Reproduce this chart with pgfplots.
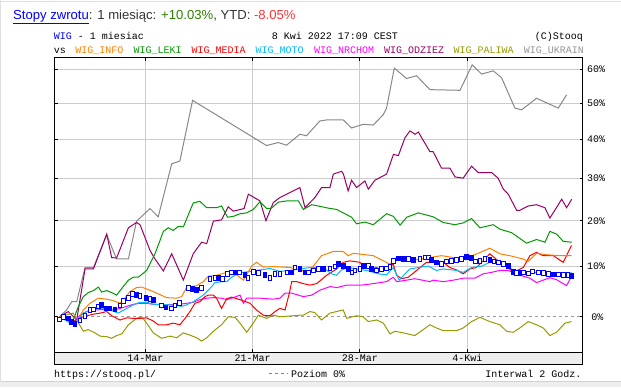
\documentclass[border=0pt]{standalone}
\usepackage{fontspec}
\setmainfont{Liberation Sans}
\newfontfamily\mono{Liberation Mono}
\usepackage{pgfplots}
\usepackage{pgfplotstable}
\pgfplotsset{compat=1.18}
\definecolor{cinfo}{HTML}{FF8000}
\definecolor{cleki}{HTML}{009900}
\definecolor{cmedia}{HTML}{FF0000}
\definecolor{cmoto}{HTML}{00BBFF}
\definecolor{cnrchom}{HTML}{FF00FF}
\definecolor{codziez}{HTML}{990066}
\definecolor{cpaliwa}{HTML}{999900}
\definecolor{cukrain}{HTML}{888888}
\definecolor{cgrid}{HTML}{CCCCCC}
\definecolor{cband}{HTML}{EEEEEE}
\definecolor{ctxt}{HTML}{333333}
\definecolor{cgreen}{HTML}{2E7D00}
\definecolor{cneg}{HTML}{FF3333}

% x: trading days from 8 Mar (14-Mar = 4, 21-Mar = 9, 28-Mar = 14, 4-Kwi = 19); y: return in %
\pgfplotstableread{
d r
0 0
0.33 1.3
0.57 2.9
0.80 2.9
1.19 9.8
1.58 9.8
2.20 16.8
2.66 11.6
3.21 11.6
3.59 19.9
4.22 22.8
4.60 20.9
5.23 33.7
5.61 34.4
6.20 50.8
9.65 38.4
10.19 39.2
10.58 38.5
11.20 41.4
11.51 41.0
12.13 45.0
12.45 45.3
13.22 45.3
13.61 43.1
14.15 44.1
14.62 43.9
15.09 46.8
15.24 48.6
15.60 60.3
16.17 57.2
16.64 58.0
17.26 53.9
18.66 53.7
19.23 61.3
19.67 58.5
20.21 59.5
20.60 57.4
21.22 48.6
21.53 48.1
22.23 51.4
23.24 48.6
23.63 52.4
}\tukrain

\pgfplotstableread{
d r
0 0
0.41 1.0
0.80 -0.6
1.19 9.5
1.58 9.5
2.20 17.0
2.43 11.9
2.66 11.8
3.21 18.4
3.59 19.6
3.75 19.1
4.22 13.4
4.45 11.6
4.84 9.1
5.23 12.7
5.77 7.2
6.23 12.7
6.62 15.2
6.86 14.9
7.17 19.9
7.55 20.2
7.86 23.2
8.10 22.2
8.60 22.8
8.80 26.2
9.34 24.6
9.62 20.0
9.96 24.2
10.24 25.3
10.58 26.2
11.20 27.8
11.44 23.0
11.90 25.4
12.21 27.8
12.60 27.8
12.76 31.1
13.15 31.8
13.23 31.1
13.45 27.0
13.61 29.6
13.84 27.8
14.23 29.4
14.39 27.4
14.70 29.6
15.24 31.1
15.56 36.1
15.79 35.8
16.10 40.5
16.33 42.3
16.57 41.4
16.72 42.0
17.26 36.8
17.41 36.8
17.80 32.6
18.19 32.6
18.43 30.4
18.81 30.1
19.20 33.1
19.51 31.5
20.13 31.5
20.44 30.1
20.68 27.4
20.91 26.2
21.30 22.4
21.45 22.4
21.84 23.4
22.23 23.7
22.62 23.0
22.85 20.6
23.40 25.0
23.63 23.0
23.87 25.0
}\todziez

\pgfplotstableread{
d r
0 0
0.64 -0.6
0.88 2.0
1.11 3.9
1.34 4.7
1.58 5.1
1.81 5.8
1.96 4.8
2.20 5.1
2.43 4.7
2.66 4.2
2.97 5.9
3.21 7.2
3.44 7.8
3.67 7.8
4.06 9.2
4.45 12.7
4.84 17.6
5.07 18.4
5.30 17.8
5.53 18.7
5.77 18.6
6.23 24.1
6.54 24.5
6.86 23.0
7.32 23.0
7.55 23.4
7.83 20.8
8.10 21.0
8.41 21.6
8.72 21.8
9.03 22.6
9.34 24.4
9.65 22.8
9.88 22.9
10.19 24.3
10.58 24.6
11.13 24.6
11.36 22.6
11.75 23.7
12.06 23.4
12.52 22.9
12.91 22.6
13.22 21.8
13.61 20.8
13.84 19.3
14.23 19.7
14.62 19.1
15.24 21.6
15.56 21.0
15.87 19.0
16.18 20.8
16.72 21.8
17.41 20.9
17.88 19.6
18.42 19.1
18.81 19.5
19.20 20.5
19.59 18.4
20.21 19.1
20.52 18.1
21.07 17.3
21.76 15.0
22.23 15.8
22.62 15.2
22.85 17.6
23.16 17.0
23.47 15.4
23.87 15.2
}\tleki

\pgfplotstableread{
d r
0 0
0.64 0.7
0.80 -0.6
1.11 -2.7
1.34 -2.4
1.65 -3.0
1.89 -3.6
2.20 -3.7
2.43 -4.0
2.66 -3.5
2.90 -3.2
3.21 -1.5
3.59 -0.3
3.83 0.0
4.06 -1.2
4.37 -3.0
4.76 -4.0
5.15 -3.6
5.46 -3.9
5.77 -3.0
6.00 -3.3
6.39 -3.9
6.62 -4.5
6.86 -3.9
7.17 -2.7
7.55 -1.5
7.86 0.0
8.18 -0.1
8.41 -1.2
8.72 -2.9
9.03 -1.2
9.26 0.3
9.65 -0.3
9.96 0.3
10.27 0.0
11.20 0.3
11.36 0.3
11.67 1.0
11.90 0.8
12.21 -0.6
12.60 0.7
13.22 1.3
13.38 -0.3
13.84 0.2
14.15 0.0
14.39 -0.9
14.78 -0.6
15.09 -1.2
15.40 -3.2
15.63 -2.7
16.02 -3.0
16.56 -3.5
16.95 -2.4
17.26 -1.5
17.57 -2.1
17.88 -2.6
18.50 -2.6
18.81 -2.1
19.20 -0.9
19.59 -0.1
20.05 -0.9
20.52 -1.5
20.83 -2.7
21.14 -2.9
21.45 -2.1
21.84 -0.9
22.23 -1.5
22.54 -2.1
22.85 -3.5
23.16 -2.9
23.55 -1.2
23.86 -0.9
}\tpaliwa

\pgfplotstableread{
d r
0 0
0.64 -1.2
0.95 0.3
1.27 1.0
1.58 1.3
2.20 1.4
2.51 1.3
2.82 1.6
3.13 2.0
3.44 2.4
3.75 2.6
4.06 2.6
4.37 2.4
4.99 2.3
5.61 2.4
5.92 2.6
6.23 2.8
6.54 3.3
6.86 3.6
7.17 3.7
7.55 3.6
7.79 3.3
8.10 3.7
8.41 4.2
8.57 2.6
8.72 3.6
9.34 3.6
9.96 3.4
10.27 3.6
10.51 4.6
10.82 4.6
11.36 3.9
11.75 4.2
12.14 5.2
12.61 5.9
12.93 5.7
13.38 6.2
14.08 6.2
14.62 6.5
15.24 6.9
15.55 7.8
15.71 6.9
16.18 7.2
16.56 7.5
17.26 6.9
17.41 7.2
17.88 6.9
18.35 7.2
18.81 7.6
19.36 7.6
19.74 8.5
20.13 8.8
20.52 9.2
20.91 9.2
21.30 8.5
21.61 8.0
21.92 7.6
22.23 6.7
22.54 7.2
22.85 7.7
23.16 7.3
23.63 6.1
23.86 8.0
}\tnrchom

\pgfplotstableread{
d r
0 0
0.64 -0.9
0.95 -0.2
1.27 0.2
1.58 0.5
1.89 0.7
2.20 1.0
2.43 0.2
2.82 -0.6
3.13 -0.2
3.44 -0.3
3.75 -0.3
4.06 -0.2
4.37 -0.8
4.60 -1.5
4.99 -1.5
5.30 -1.2
5.61 -1.5
5.85 -0.3
6.08 1.0
6.31 2.6
6.54 2.9
6.78 3.9
6.93 4.2
7.17 4.2
7.32 3.6
7.55 1.6
7.79 3.5
8.02 3.8
8.41 3.3
8.88 2.6
9.18 1.3
9.50 0.3
9.81 0.2
10.04 1.0
10.27 1.6
10.51 1.3
10.71 4.6
10.82 6.9
11.05 6.9
11.36 6.5
11.67 6.2
11.98 6.5
12.45 8.2
12.91 9.5
13.22 10.9
13.53 11.2
14.00 10.9
14.15 10.1
14.46 9.5
14.77 9.8
15.08 9.2
15.32 9.8
15.55 10.5
15.71 8.2
15.94 7.5
16.25 7.8
16.64 9.2
17.10 10.9
17.33 10.9
17.57 11.2
17.88 10.9
18.19 9.8
18.50 9.3
18.81 8.5
19.12 9.5
19.43 9.8
19.74 11.2
20.05 12.7
20.44 11.2
20.68 10.9
21.14 8.8
21.61 9.8
21.92 12.3
22.23 13.0
22.54 12.3
23.01 12.3
23.47 10.9
23.86 14.5
}\tmedia

\pgfplotstableread{
d r
0 0
0.64 -1.5
1.11 0.7
1.42 1.3
1.81 1.8
2.04 1.6
2.35 1.3
2.74 0.7
3.13 1.6
3.44 2.3
3.75 2.8
4.06 2.8
4.37 2.4
5.15 2.3
5.69 2.0
5.92 2.3
6.23 2.9
6.70 4.2
7.09 5.9
7.24 6.7
7.56 6.9
7.79 6.9
8.02 7.8
8.41 8.8
8.57 8.8
9.18 9.2
9.81 9.6
10.27 9.0
10.74 9.2
11.20 9.5
11.67 9.8
12.13 9.8
12.37 9.5
12.68 8.5
12.91 8.2
13.14 9.3
13.45 9.8
13.84 9.5
14.31 9.2
14.85 8.5
15.24 8.3
15.55 9.8
15.83 7.2
16.10 8.5
16.33 9.5
16.72 9.8
17.18 10.1
17.57 9.2
17.88 9.5
18.50 9.2
18.81 8.8
19.20 9.8
19.67 10.1
20.05 10.9
20.52 10.9
20.91 10.1
21.14 9.2
21.45 8.4
21.84 8.5
22.23 8.8
22.54 8.8
23.01 8.5
23.63 8.2
23.86 8.8
}\tmoto

\pgfplotstableread{
d r
0 0
0.72 -1.5
1.11 1.3
1.42 2.6
1.81 3.6
2.20 3.4
2.51 3.1
2.82 2.6
3.05 3.6
3.28 4.9
3.59 5.7
3.83 5.8
4.37 4.9
4.99 3.7
5.46 3.6
5.69 3.9
5.92 5.7
6.39 6.1
6.70 6.9
6.93 8.0
7.32 8.2
7.79 8.8
8.10 8.8
8.57 7.2
8.95 10.1
9.18 10.9
9.50 9.9
10.00 10.0
10.74 9.8
11.36 9.1
11.67 9.2
12.21 12.3
12.75 13.2
13.22 13.2
13.45 12.3
13.69 12.8
14.62 12.3
15.09 11.2
15.40 10.5
15.71 11.9
16.17 11.1
17.10 11.8
17.80 12.3
18.66 11.7
19.12 12.1
19.51 12.8
20.05 13.9
20.52 12.7
20.98 12.3
21.60 11.6
21.84 11.1
22.23 12.8
22.69 12.5
23.32 12.3
23.86 12.3
}\tinfo

\pgfplotstableread{
d r c
0.00 -0.5 u
0.18 0.0 u
0.41 -0.3 d
0.57 -1.0 d
0.72 -1.3 d
0.95 -0.7 u
1.19 0.2 u
1.42 1.3 u
1.58 1.4 u
1.81 2.0 u
1.96 2.3 d
2.20 1.6 d
2.35 1.6 d
2.59 1.4 d
2.82 2.2 u
2.97 3.1 u
3.21 3.6 u
3.41 4.4 u
3.59 4.2 d
3.75 4.1 u
4.03 3.6 d
4.22 3.4 u
4.37 3.3 d
4.76 2.2 u
4.96 1.8 d
5.23 1.6 u
5.38 2.2 u
5.59 2.6 u
6.00 5.6 u
6.20 5.4 d
6.39 5.2 d
6.62 5.6 u
7.01 7.5 u
7.24 7.6 u
7.40 7.7 d
7.60 7.5 u
7.83 8.5 u
8.02 8.8 u
8.25 8.8 d
8.38 8.8 u
8.64 8.2 d
8.79 7.6 u
9.03 8.9 u
9.27 8.7 u
9.58 8.2 d
9.81 7.6 u
10.04 8.5 u
10.27 8.5 u
10.59 8.8 u
10.82 8.8 d
10.97 9.8 u
11.21 9.5 d
11.44 8.8 d
11.59 8.8 u
11.83 9.2 u
12.06 9.5 u
12.30 9.5 d
12.61 9.6 u
12.84 10.0 u
13.00 10.5 d
13.22 10.1 d
13.45 9.5 d
13.62 8.8 u
13.77 9.2 u
14.00 9.5 u
14.15 10.1 d
14.39 10.1 u
14.54 9.5 d
14.77 9.2 u
15.01 9.5 u
15.24 9.6 u
15.39 9.9 u
15.55 11.2 u
15.78 11.7 d
16.02 11.6 d
16.25 11.6 u
16.48 11.4 d
16.79 11.6 u
17.03 11.9 u
17.18 11.9 u
17.34 11.4 d
17.56 10.9 d
17.80 10.6 u
18.03 11.1 u
18.25 11.2 u
18.50 11.4 u
18.73 11.6 u
18.97 12.1 d
19.20 11.8 d
19.39 11.1 u
19.59 11.2 u
19.82 11.6 u
20.05 11.4 d
20.24 11.1 u
20.44 10.9 u
20.68 10.5 u
20.91 10.1 d
21.14 8.9 d
21.30 8.7 u
21.45 8.7 d
21.61 8.8 u
21.84 8.6 u
22.04 9.0 u
22.31 8.8 u
22.54 8.7 u
22.77 8.5 u
23.01 8.4 d
23.24 8.4 u
23.47 8.2 u
23.70 8.2 u
23.86 8.1 d
}\twig

\begin{document}
\begin{tikzpicture}[x=1bp,y=1bp]
\path[use as bounding box] (0,0) rectangle (621,387);
% page frame
\fill[cband] (0,0) rectangle (621,5.3);
\draw[gray!35, line width=1bp] (0,5.3) -- (621,5.3);
\draw[gray!25, line width=1bp] (0,385.5) -- (621,385.5);
\draw[gray!25, line width=1bp] (0.5,5.3) -- (0.5,387);
% header
\node[anchor=base west, inner sep=0pt, font=\fontsize{13.1bp}{15bp}\selectfont] at (13,367.7)
  {\textcolor{blue}{\underline{Stopy zwrotu}}\textcolor{ctxt}{: 1 miesiąc: }\textcolor{cgreen}{+10.03\%}\textcolor{ctxt}{, YTD: }\textcolor{cneg}{-8.05\%}};
\begin{scope}[every node/.style={inner sep=0pt, font=\mono\fontsize{10bp}{12bp}\selectfont}]
\node[anchor=base west] at (53.7,347.7) {\textcolor{blue}{WIG} - 1 miesiac};
\node[anchor=base] at (335,347.7) {8 Kwi 2022 17:09 CEST};
\node[anchor=base east] at (583,347.7) {(C)Stooq};
\node[anchor=base west] at (53.7,333.7) {vs};
\node[anchor=base west, text=cinfo] at (75.2,333.7) {WIG\_INFO};
\node[anchor=base west, text=cleki] at (133.5,333.7) {WIG\_LEKI};
\node[anchor=base west, text=cmedia] at (191.3,333.7) {WIG\_MEDIA};
\node[anchor=base west, text=cmoto] at (255.4,333.7) {WIG\_MOTO};
\node[anchor=base west, text=cnrchom] at (314,333.7) {WIG\_NRCHOM};
\node[anchor=base west, text=codziez] at (384,333.7) {WIG\_ODZIEZ};
\node[anchor=base west, text=cpaliwa] at (453.5,333.7) {WIG\_PALIWA};
\node[anchor=base west, text=cukrain!90] at (523.6,333.7) {WIG\_UKRAIN};
\node[anchor=base west] at (54,10) {https://stooq.pl/};
\node[anchor=base west] at (291,10) {Poziom 0\%};
\node[anchor=base east] at (581.7,10) {Interwal 2 Godz.};
\end{scope}
\draw[gray, line width=0.8bp, dash pattern=on 3bp off 3bp] (269,13.5) -- (288,13.5);
% date band
\fill[cband] (54.7,23) rectangle (582.7,34.7);
\draw[line width=1bp] (54.7,23) rectangle (582.7,34.7);
\begin{axis}[
  at={(54.7bp,34.7bp)}, anchor=south west,
  scale only axis, width=528bp, height=294.6bp,
  xmin=-0.224, xmax=24.38,
  ymin=-0.0674, ymax=0.4917,
  axis line style={black, line width=1bp},
  tick style={black, line width=1bp},
  major tick length=3bp,
  tick align=inside,
  xtick pos=both, ytick pos=both,
  grid=major,
  major grid style={cgrid, line width=1bp},
  xtick={4,9,14,19},
  xticklabels={14-Mar,21-Mar,28-Mar,4-Kwi},
  xticklabel style={anchor=center, yshift=-5.9bp, inner sep=0pt, font=\mono\fontsize{10bp}{12bp}\selectfont},
  ytick={0.0953102,0.1823216,0.2623643,0.3364722,0.4054651,0.4700036},
  yticklabels={10\%,20\%,30\%,40\%,50\%,60\%},
  yticklabel pos=right,
  yticklabel style={anchor=west, inner sep=0pt, xshift=4.2bp, font=\mono\fontsize{10bp}{12bp}\selectfont},
  extra y ticks={0},
  extra y tick labels={0\%},
  extra y tick style={grid=major, major grid style={gray!80, line width=0.8bp, dash pattern=on 3bp off 3bp}, yticklabel style={anchor=west, inner sep=0pt, xshift=4.2bp, font=\mono\fontsize{10bp}{12bp}\selectfont}},
  every axis plot/.append style={line width=1bp, mark=none},
]
\addplot[cukrain] table[x index=0, y expr={ln(1+\thisrowno{1}/100)}] {\tukrain};
\addplot[codziez] table[x index=0, y expr={ln(1+\thisrowno{1}/100)}] {\todziez};
\addplot[cleki] table[x index=0, y expr={ln(1+\thisrowno{1}/100)}] {\tleki};
\addplot[cpaliwa] table[x index=0, y expr={ln(1+\thisrowno{1}/100)}] {\tpaliwa};
\addplot[cnrchom] table[x index=0, y expr={ln(1+\thisrowno{1}/100)}] {\tnrchom};
\addplot[cmedia] table[x index=0, y expr={ln(1+\thisrowno{1}/100)}] {\tmedia};
\addplot[cmoto] table[x index=0, y expr={ln(1+\thisrowno{1}/100)}] {\tmoto};
\addplot[cinfo] table[x index=0, y expr={ln(1+\thisrowno{1}/100)}] {\tinfo};
\addplot[scatter, only marks, line width=0.9bp,
  point meta=explicit symbolic,
  scatter/classes={u={mark=square*, draw=blue, fill=white}, d={mark=square*, draw=blue, fill=blue}},
  mark size=1.8bp, every mark/.append style={yscale=1.3}]
  table[x index=0, y expr={ln(1+\thisrowno{1}/100)}, meta index=2] {\twig};
\end{axis}
\end{tikzpicture}
\end{document}
